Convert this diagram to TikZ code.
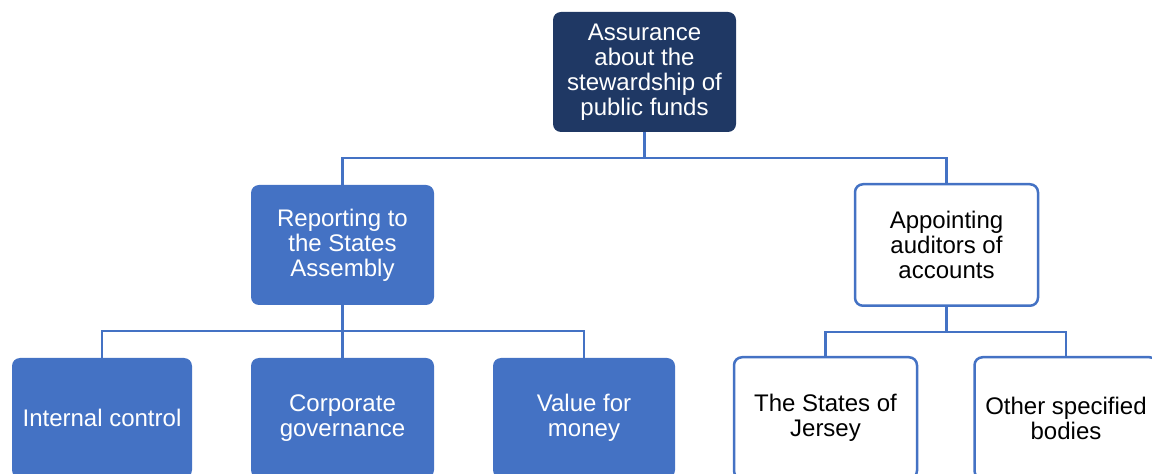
\documentclass[tikz,border=0pt]{standalone}
\usepackage{fontspec}
\setmainfont{Liberation Sans}
\definecolor{navy}{HTML}{1F3864}
\definecolor{midblue}{HTML}{4472C4}
\begin{document}
\begin{tikzpicture}[x=1pt, y=1pt,
    box/.style={rounded corners=8pt, align=center, inner sep=0pt, font=\fontsize{24}{25}\selectfont},
    darkbox/.style={box, fill=navy, text=white, minimum width=183pt, minimum height=120pt},
    bluebox/.style={box, fill=midblue, text=white, minimum width=183pt, minimum height=120pt},
    whitebox/.style={box, draw=midblue, line width=2.5pt, fill=white, text=black, minimum width=183pt, minimum height=121.5pt},
    link/.style={draw=midblue, line width=2.5pt}]
        \useasboundingbox (0, 0) rectangle (1152, 474);
        \node[darkbox] (assurance) at (644.5, 402) {Assurance\\about the\\stewardship of\\public funds};
        \node[bluebox] (reporting) at (342.5, 229) {Reporting to\\the States\\Assembly};
        \node[whitebox] (appointing) at (946.5, 229) {Appointing\\auditors of\\accounts};
        \node[bluebox, minimum width=180pt] (internal) at (102, 56) {Internal control};
        \node[bluebox] (governance) at (342.5, 56) {Corporate\\governance};
        \node[bluebox, minimum width=182pt] (value) at (584, 56) {Value for\\money};
        \node[whitebox] (jersey) at (825.5, 56) {The States of\\Jersey};
        \node[whitebox] (other) at (1066, 56) {Other specified\\bodies};
        \draw[link] (assurance.south) -- ++(0, -26) -| (reporting.north);
        \draw[link] (assurance.south) -- ++(0, -26) -| (appointing.north);
        \foreach \leaf in {internal, governance, value}
          \draw[link] (reporting.south) -- ++(0, -26) -| (\leaf.north);
        \foreach \leaf in {jersey, other}
          \draw[link] (appointing.south) -- ++(0, -25) -| (\leaf.north);
      \end{tikzpicture}
\end{document}
